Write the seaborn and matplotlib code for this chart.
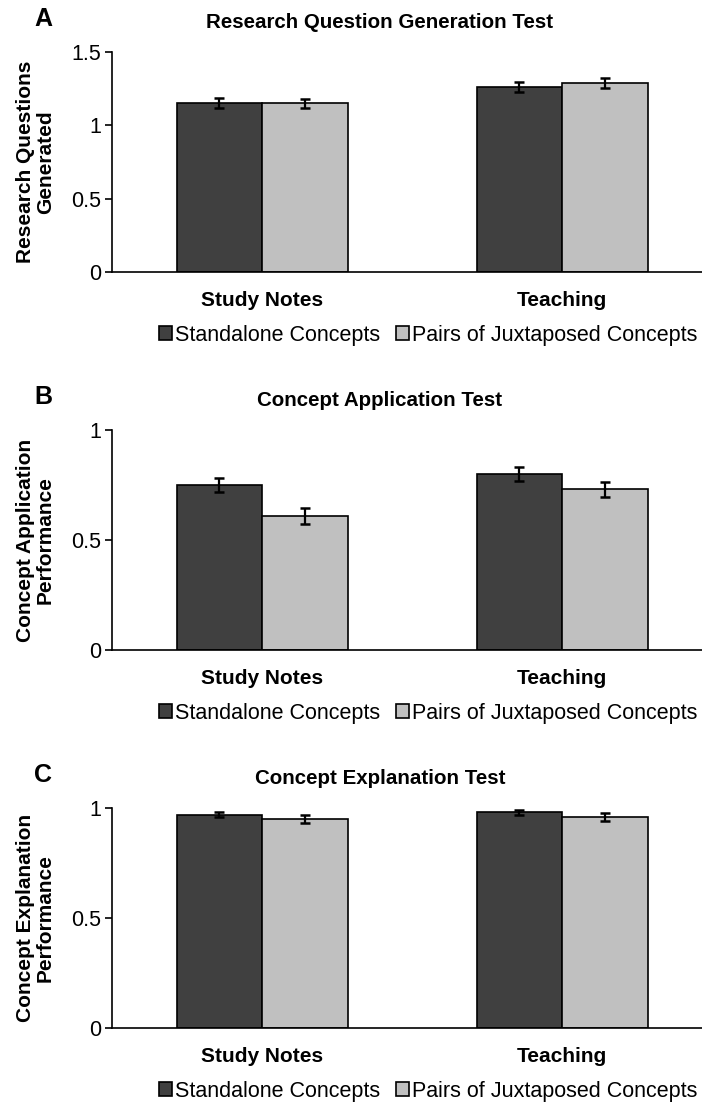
"""
Concept tests - standalone vs juxtaposed concepts
"""

import numpy as np
import pandas as pd
import matplotlib
matplotlib.use("Agg")
import matplotlib.pyplot as plt
import seaborn as sns

"""Data"""

tasks = ["Study Notes", "Teaching"]
concept_types = ["Standalone Concepts", "Pairs of Juxtaposed Concepts"]

# means per task, one list per concept type
rq_standalone = [1.15, 1.26]
rq_pairs = [1.15, 1.29]
rq_err_standalone = [0.033, 0.035]
rq_err_pairs = [0.030, 0.035]

app_standalone = [0.75, 0.80]
app_pairs = [0.61, 0.73]
app_err_standalone = [0.032, 0.030]
app_err_pairs = [0.036, 0.033]

exp_standalone = [0.97, 0.98]
exp_pairs = [0.95, 0.96]
exp_err_standalone = [0.012, 0.010]
exp_err_pairs = [0.019, 0.017]

titles = ["Research Question Generation Test", "Concept Application Test", "Concept Explanation Test"]
letters = ["A", "B", "C"]
ylabels = ["Research Questions\nGenerated", "Concept Application\nPerformance", "Concept Explanation\nPerformance"]
yticks = [[0, 0.5, 1, 1.5], [0, 0.5, 1], [0, 0.5, 1]]
yticklabels = [["0", "0.5", "1", "1.5"], ["0", "0.5", "1"], ["0", "0.5", "1"]]

panels = [
    (rq_standalone, rq_pairs, rq_err_standalone, rq_err_pairs),
    (app_standalone, app_pairs, app_err_standalone, app_err_pairs),
    (exp_standalone, exp_pairs, exp_err_standalone, exp_err_pairs),
]

colors = ["#404040", "#c0c0c0"]

"""Plot"""

sns.set_style("white")
plt.rcParams["font.family"] = ["Liberation Sans", "DejaVu Sans"]
plt.rcParams["text.color"] = "black"
plt.rcParams["xtick.color"] = "black"
plt.rcParams["ytick.color"] = "black"
plt.rcParams["axes.labelcolor"] = "black"

W, H = 702, 1105
fig = plt.figure(figsize=(W / 100, H / 100), dpi=100)

offset = 378
for i in range(3):
    stand, pairs, err_s, err_p = panels[i]
    df = pd.DataFrame({
        "task": tasks * 2,
        "concept": [concept_types[0]] * 2 + [concept_types[1]] * 2,
        "score": stand + pairs,
    })

    top_px = 52 + i * offset
    bot_px = 272 + i * offset
    left_px, right_px = 112, 712
    ax = fig.add_axes([left_px / W, 1 - bot_px / H, (right_px - left_px) / W, (bot_px - top_px) / H])

    sns.barplot(data=df, x="task", y="score", hue="concept", hue_order=concept_types,
                palette=colors, edgecolor="black", linewidth=1.2, width=0.57, gap=0,
                errorbar=None, ax=ax)

    errs = [err_s, err_p]
    for cont, e in zip(ax.containers, errs):
        xs = [p.get_x() + p.get_width() / 2 for p in cont.patches]
        ys = [p.get_height() for p in cont.patches]
        ax.errorbar(xs, ys, yerr=e, fmt="none", ecolor="black", elinewidth=1.6,
                    capsize=3.6, capthick=1.8, zorder=5)

    handles, labels = ax.get_legend_handles_labels()
    ax.get_legend().remove()

    ax.set_xlim(-0.5, 1.5)
    ax.set_ylim(0, yticks[i][-1])
    ax.set_yticks(yticks[i])
    ax.set_yticklabels(yticklabels[i], fontsize=15.5)
    ax.set_xlabel("")
    ax.set_ylabel(ylabels[i], fontsize=15, fontweight="bold", linespacing=1.05)
    ax.yaxis.set_label_coords(-0.095, 0.5)
    ax.tick_params(axis="y", length=5, width=1.2, direction="out", pad=3, left=True)
    ax.tick_params(axis="x", length=0, pad=14, labelsize=15)
    for lab in ax.get_xticklabels():
        lab.set_fontweight("bold")

    sns.despine(ax=ax, top=True, right=True)
    ax.spines["left"].set_color("black")
    ax.spines["bottom"].set_color("black")
    ax.spines["left"].set_linewidth(1.2)
    ax.spines["bottom"].set_linewidth(1.2)

    fig.text(380 / W, 1 - (23 + i * offset) / H, titles[i], ha="center", va="center",
             fontsize=14.8, fontweight="bold")
    fig.text(43 / W, 1 - (19 + i * offset) / H, letters[i], ha="center", va="center",
             fontsize=18, fontweight="bold")

    ax.legend(handles, labels, loc="center", bbox_to_anchor=(428 / W, 1 - (335 + i * offset) / H),
              bbox_transform=fig.transFigure, ncol=2, frameon=False, fontsize=15.5,
              handlelength=0.62, handleheight=0.62, handletextpad=0.12, columnspacing=0.75,
              borderpad=0, borderaxespad=0)

fig.savefig("out.png", dpi=100)
